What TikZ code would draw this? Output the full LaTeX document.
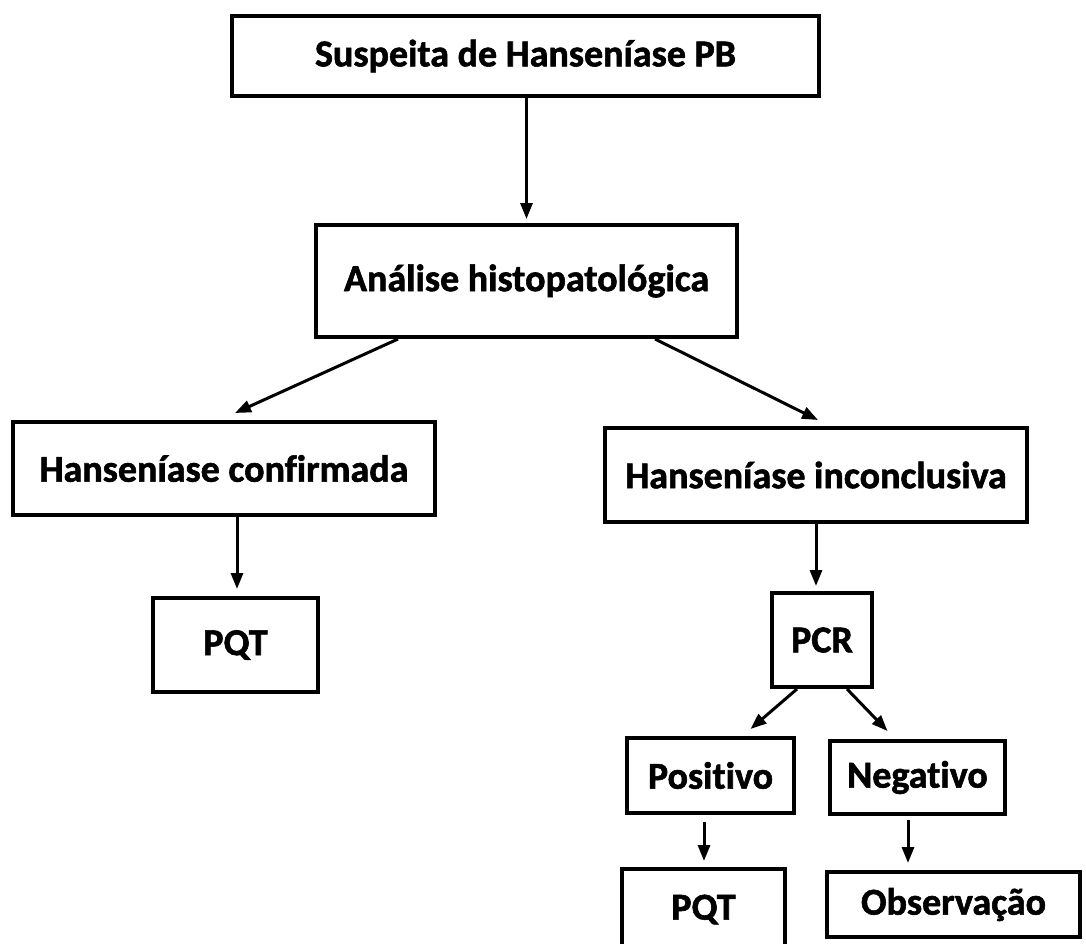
\documentclass[tikz,border=0pt]{standalone}
\usepackage{fontspec}
\setmainfont{Carlito}[Ligatures=NoCommon, BoldFeatures={FakeBold=1.5}]
\usetikzlibrary{arrows.meta,calc}
\tikzset{
  box/.style={draw=black, line width=4pt, fill=white, inner sep=0pt,
    font=\bfseries\fontsize{38}{42}\selectfont, text=black},
  arr/.style={draw=black, line width=3pt, -{Triangle[length=16pt,width=12pt]}}
}
\begin{document}
\begin{tikzpicture}[x=1pt,y=-1pt]
\clip (0,0) rectangle (1086,943);
\fill[white] (0,0) rectangle (1086,943);
\node[box, minimum width=587pt, minimum height=80pt] (b1) at (525.5,56) {Suspeita de Hanseníase PB};
\node[box, minimum width=421pt, minimum height=112pt] (b2) at (526.5,281) {Análise histopatológica};
\node[box, minimum width=422pt, minimum height=93pt] (b3) at (224,468.5) {Hanseníase confirmada};
\node[box, minimum width=422pt, minimum height=94pt] (b4) at (816,475) {Hanseníase inconclusiva};
\node[box, minimum width=165pt, minimum height=94pt] (pq1) at (235.5,645) {PQT};
\node[box, minimum width=100pt, minimum height=94pt] (pcr) at (822,640) {PCR};
\node[box, minimum width=167pt, minimum height=75pt] (pos) at (710.5,775.5) {Positivo};
\node[box, minimum width=175pt, minimum height=73pt] (neg) at (917.5,777.5) {Negativo};
\node[box, minimum width=163pt, minimum height=81pt] (pq2) at (703.5,909.5) {PQT};
\node[box, minimum width=253pt, minimum height=65pt] (obs) at (953.5,904.5) {Observação};
% connectors
\draw[arr] ($(b1.south)+(1,0)$) -- ($(b2.north)+(0,-4)$);
\draw[arr] ($(b2.south west)+(84,0)$) -- ($(b3.north)+(11,-7)$);
\draw[arr] ($(b2.south east)+(-84,0)$) -- ($(b4.north)+(2,-6)$);
\draw[arr] ($(pq1.north |- b3.south)+(1.5,0)$) -- ($(pq1.north)+(1.5,-7)$);
\draw[arr] (b4.south) -- ($(b4.south |- pcr.north)+(0,-5)$);
\draw[arr] ($(pcr.south)+(-25,0)$) -- ($(pos.north)+(40,-7)$);
\draw[arr] ($(pcr.south)+(25,0)$) -- ($(neg.north)+(-30,-8)$);
\draw[arr] ($(pq2.north |- pos.south)+(0.5,7)$) -- ($(pq2.north)+(0.5,-6)$);
\draw[arr] ($(obs.north)+(-45.5,-50)$) -- ($(obs.north)+(-45.5,-7)$);
\end{tikzpicture}
\end{document}
